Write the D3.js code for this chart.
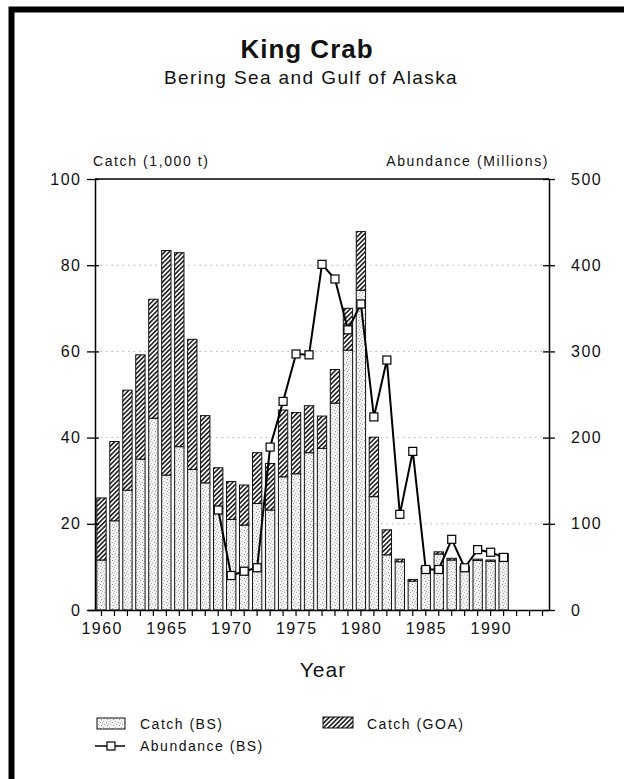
<!DOCTYPE html>
<html>
<head>
<meta charset="utf-8">
<script src="https://cdn.jsdelivr.net/npm/d3@7"></script>
<style>
  body { margin: 0; background: #fff; }
  svg { display: block; }
  text { font-family: "Liberation Sans", Arial, Helvetica, sans-serif; fill: #111; }
</style>
</head>
<body>
<svg id="chart" width="624" height="779"></svg>
<script>
// King crab catch (1,000 t) by region, and Bering Sea abundance (millions)
const years = [1960, 1961, 1962, 1963, 1964, 1965, 1966, 1967, 1968, 1969,
               1970, 1971, 1972, 1973, 1974, 1975, 1976, 1977, 1978, 1979,
               1980, 1981, 1982, 1983, 1984, 1985, 1986, 1987, 1988, 1989,
               1990, 1991];
const catchBS = [11.6, 20.7, 27.8, 35.0, 44.5, 31.3, 37.9, 32.6, 29.5, 23.6,
                 21.0, 19.7, 24.7, 23.2, 30.9, 31.6, 36.5, 37.5, 48.0, 60.3,
                 74.2, 26.3, 12.8, 11.2, 6.7, 9.6, 13.0, 11.6, 9.8, 11.5,
                 11.3, 12.6];
const catchGOA = [14.4, 18.4, 23.2, 24.2, 27.6, 52.1, 45.0, 30.2, 15.6, 9.4,
                  8.8, 9.3, 11.8, 10.8, 15.5, 14.2, 10.9, 7.5, 7.8, 9.7,
                  13.6, 13.8, 5.8, 0.6, 0.4, 0.4, 0.5, 0.4, 0.4, 0.3,
                  0.3, 0.5];
const abundanceYears = [1969, 1970, 1971, 1972, 1973, 1974, 1975, 1976, 1977, 1978,
                        1979, 1980, 1981, 1982, 1983, 1984, 1985, 1986, 1987, 1988,
                        1989, 1990, 1991];
const abundanceBS = [116, 40, 45, 49, 189, 242, 297, 296, 401, 384,
                     325, 355, 224, 290, 111, 184, 47, 47, 82, 49,
                     70, 67, 61];
const axisYears = [1960, 1961, 1962, 1963, 1964, 1965, 1966, 1967, 1968, 1969,
                   1970, 1971, 1972, 1973, 1974, 1975, 1976, 1977, 1978, 1979,
                   1980, 1981, 1982, 1983, 1984, 1985, 1986, 1987, 1988, 1989,
                   1990, 1991, 1992, 1993, 1994];
const yearLabels = [1960, 1965, 1970, 1975, 1980, 1985, 1990];
const catchTicks = [0, 20, 40, 60, 80, 100];
const abundanceTicks = [0, 100, 200, 300, 400, 500];

const svg = d3.select("#chart");
const defs = svg.append("defs");

// Stippled fill for Bering Sea catch
const stip = defs.append("pattern").attr("id", "stipple")
  .attr("patternUnits", "userSpaceOnUse").attr("width", 6).attr("height", 6);
stip.append("rect").attr("width", 6).attr("height", 6).attr("fill", "#f2f2f2");
[[1, 1], [4, 2], [2, 4], [5, 5], [0, 3]].forEach(([px, py], i) => {
  stip.append("rect").attr("x", px).attr("y", py).attr("width", 1).attr("height", 1)
    .attr("fill", i % 2 ? "#9a9a9a" : "#b8b8b8");
});

// Diagonal hatch for Gulf of Alaska catch
const hatch = defs.append("pattern").attr("id", "hatch")
  .attr("patternUnits", "userSpaceOnUse").attr("width", 3.3).attr("height", 3.3)
  .attr("patternTransform", "rotate(45)");
hatch.append("rect").attr("width", 3.3).attr("height", 3.3).attr("fill", "#fff");
hatch.append("line").attr("x1", 0.8).attr("y1", 0).attr("x2", 0.8).attr("y2", 3.3)
  .attr("stroke", "#111").attr("stroke-width", 1.5);

const plot = { left: 95, right: 549, top: 179, bottom: 610 };

const x = d3.scaleBand().domain(axisYears)
  .range([plot.left, plot.right]).paddingInner(0.28).paddingOuter(0.14);
const yL = d3.scaleLinear().domain([0, 100]).range([plot.bottom, plot.top]);
const yR = d3.scaleLinear().domain([0, 500]).range([plot.bottom, plot.top]);

// Page frame (thick rules on top and left)
svg.append("path")
  .attr("d", `M11.5,779 V9.5 H624`)
  .attr("fill", "none").attr("stroke", "#000").attr("stroke-width", 6);

// Titles
svg.append("text").attr("x", 307).attr("y", 58).attr("text-anchor", "middle")
  .style("font-size", "26px").style("font-weight", "bold").style("letter-spacing", "1px")
  .text("King Crab");
svg.append("text").attr("x", 311).attr("y", 84).attr("text-anchor", "middle")
  .style("font-size", "19px").style("letter-spacing", "1.4px")
  .text("Bering Sea and Gulf of Alaska");

svg.append("text").attr("x", 93).attr("y", 166)
  .style("font-size", "14px").style("letter-spacing", "1.6px").text("Catch (1,000 t)");
svg.append("text").attr("x", 549).attr("y", 166).attr("text-anchor", "end")
  .style("font-size", "14px").style("letter-spacing", "1.6px").text("Abundance (Millions)");

// Dotted gridlines
svg.append("g").selectAll("line").data(catchTicks.filter(d => d > 0 && d < 100)).join("line")
  .attr("x1", plot.left).attr("x2", plot.right)
  .attr("y1", d => yL(d)).attr("y2", d => yL(d))
  .attr("stroke", "#9a9a9a").attr("stroke-width", 0.8)
  .attr("stroke-dasharray", "1.5 4");

// Stacked bars
const bars = svg.append("g");
years.forEach((yr, i) => {
  const bx = x(yr), bw = x.bandwidth();
  const bs = catchBS[i], goa = catchGOA[i];
  bars.append("rect").attr("x", bx).attr("width", bw)
    .attr("y", yL(bs)).attr("height", yL(0) - yL(bs))
    .attr("fill", "url(#stipple)").attr("stroke", "#111").attr("stroke-width", 1);
  bars.append("rect").attr("x", bx).attr("width", bw)
    .attr("y", yL(bs + goa)).attr("height", yL(bs) - yL(bs + goa))
    .attr("fill", "url(#hatch)").attr("stroke", "#111").attr("stroke-width", 1);
});

// Abundance line with square markers
const xc = d => x(d) + x.bandwidth() / 2;
const abData = abundanceYears.map((yr, i) => [yr, abundanceBS[i]]);
svg.append("path").datum(abData)
  .attr("d", d3.line().x(d => xc(d[0])).y(d => yR(d[1])))
  .attr("fill", "none").attr("stroke", "#000").attr("stroke-width", 2)
  .attr("stroke-linejoin", "round");
svg.append("g").selectAll("rect").data(abData).join("rect")
  .attr("x", d => xc(d[0]) - 4).attr("y", d => yR(d[1]) - 4)
  .attr("width", 8).attr("height", 8)
  .attr("fill", "#fff").attr("stroke", "#000").attr("stroke-width", 1.2);

// Axes
const fontAxis = g => g.selectAll("text")
  .style("font-size", "16px").style("letter-spacing", "1.5px")
  .style("font-family", "'Liberation Sans', Arial, sans-serif")
  .attr("fill", "#111");

const gL = svg.append("g").attr("transform", `translate(${plot.left},0)`)
  .call(d3.axisLeft(yL).tickValues(catchTicks).tickSize(8).tickSizeOuter(0).tickPadding(5.5))
  .call(fontAxis);
gL.selectAll(".tick line").attr("x1", 4).attr("stroke", "#000").attr("stroke-width", 1.3);
gL.select(".domain").attr("stroke", "#000").attr("stroke-width", 1.5);

const gR = svg.append("g").attr("transform", `translate(${plot.right},0)`)
  .call(d3.axisRight(yR).tickValues(abundanceTicks).tickSize(6).tickSizeOuter(0).tickPadding(16))
  .call(fontAxis);
gR.selectAll(".tick line").attr("x1", -6).attr("stroke", "#000").attr("stroke-width", 1.3);
gR.selectAll(".tick text").attr("text-anchor", "start");
gR.select(".domain").attr("stroke", "#000").attr("stroke-width", 1.5);

const gB = svg.append("g").attr("transform", `translate(0,${plot.bottom})`)
  .call(d3.axisBottom(x).tickValues(axisYears).tickSize(6).tickSizeOuter(0).tickPadding(7)
    .tickFormat(d => yearLabels.includes(d) ? d : ""))
  .call(fontAxis);
gB.selectAll(".tick text").attr("dx", "0.7px");
gB.selectAll(".tick line").attr("stroke", "#000").attr("stroke-width", 1.2);
gB.select(".domain").attr("d", `M${plot.left - 7},0.5H${plot.right}`)
  .attr("stroke", "#000").attr("stroke-width", 1.5);

// Top rule of the plot frame
svg.append("line").attr("x1", plot.left).attr("x2", plot.right)
  .attr("y1", plot.top).attr("y2", plot.top)
  .attr("stroke", "#000").attr("stroke-width", 1.6);

svg.append("text").attr("x", 323).attr("y", 677).attr("text-anchor", "middle")
  .style("font-size", "21px").style("letter-spacing", "1px").text("Year");

// Legend
const leg = svg.append("g");
const legText = sel => sel.style("font-size", "14px").style("letter-spacing", "1.5px");
leg.append("rect").attr("x", 97).attr("y", 718).attr("width", 28).attr("height", 11)
  .attr("fill", "url(#stipple)").attr("stroke", "#111").attr("stroke-width", 1);
leg.append("text").attr("x", 140).attr("y", 729).call(legText).text("Catch (BS)");
leg.append("rect").attr("x", 323).attr("y", 717).attr("width", 30).attr("height", 11)
  .attr("fill", "url(#hatch)").attr("stroke", "#111").attr("stroke-width", 1);
leg.append("text").attr("x", 367).attr("y", 729).call(legText).text("Catch (GOA)");
leg.append("line").attr("x1", 95).attr("x2", 125).attr("y1", 746).attr("y2", 746)
  .attr("stroke", "#000").attr("stroke-width", 1.5);
leg.append("rect").attr("x", 107).attr("y", 742).attr("width", 8).attr("height", 8)
  .attr("fill", "#fff").attr("stroke", "#000").attr("stroke-width", 1.2);
leg.append("text").attr("x", 140).attr("y", 751).call(legText).text("Abundance (BS)");
</script>
</body>
</html>
